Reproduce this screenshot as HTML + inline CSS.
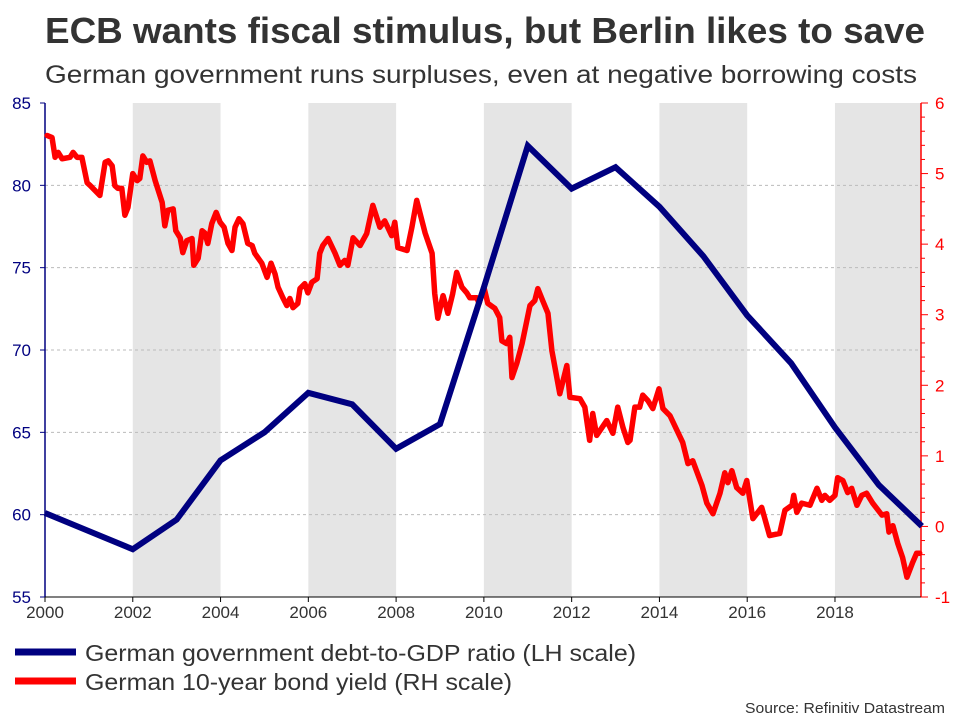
<!DOCTYPE html>
<html><head><meta charset="utf-8"><style>
body{margin:0;background:#fff;width:960px;height:720px;overflow:hidden;font-family:"Liberation Sans",sans-serif}
</style></head><body>
<svg id="c" width="960" height="720" xmlns="http://www.w3.org/2000/svg" font-family="Liberation Sans, sans-serif">
<text x="45" y="43" font-size="36" font-weight="bold" fill="#333" textLength="880" lengthAdjust="spacingAndGlyphs">ECB wants fiscal stimulus, but Berlin likes to save</text>
<text x="45" y="83" font-size="25" fill="#333" textLength="872" lengthAdjust="spacingAndGlyphs">German government runs surpluses, even at negative borrowing costs</text>
<g id="bands"></g><g id="grid"></g><g id="axes"></g><g id="series"></g>
<g>
<line x1="15" y1="652" x2="76" y2="652" stroke="#000080" stroke-width="7"/>
<text x="85" y="661" font-size="23" fill="#333" textLength="551" lengthAdjust="spacingAndGlyphs">German government debt-to-GDP ratio (LH scale)</text>
<line x1="15" y1="681" x2="76" y2="681" stroke="#ff0000" stroke-width="7"/>
<text x="85" y="690" font-size="23" fill="#333" textLength="427" lengthAdjust="spacingAndGlyphs">German 10-year bond yield (RH scale)</text>
</g>
<text x="945" y="713" text-anchor="end" font-size="15" fill="#333" textLength="200" lengthAdjust="spacingAndGlyphs">Source: Refinitiv Datastream</text>
</svg>
<script>
const debtYears=[2000,2001,2002,2003,2004,2005,2006,2007,2008,2009,2010,2011,2012,2013,2014,2015,2016,2017,2018,2019,2019.98];
const debtValues=[60.1,59.0,57.9,59.7,63.3,65.0,67.4,66.7,64.0,65.5,73.8,82.4,79.8,81.1,78.7,75.7,72.1,69.2,65.3,61.8,59.3];
const yieldDates=[0.05,0.16,0.23,0.30,0.39,0.57,0.64,0.73,0.84,0.96,1.03,1.25,1.37,1.44,1.53,1.59,1.66,1.75,1.82,1.89,2.00,2.10,2.16,2.23,2.32,2.39,2.51,2.67,2.73,2.80,2.92,2.98,3.08,3.14,3.23,3.35,3.39,3.49,3.58,3.64,3.71,3.80,3.90,3.99,4.08,4.17,4.26,4.33,4.42,4.51,4.62,4.72,4.78,4.94,5.06,5.15,5.24,5.31,5.42,5.51,5.58,5.65,5.76,5.81,5.92,5.99,6.08,6.20,6.26,6.33,6.45,6.61,6.72,6.83,6.90,7.02,7.18,7.33,7.47,7.63,7.74,7.90,7.97,8.04,8.25,8.36,8.47,8.66,8.82,8.88,8.95,9.07,9.18,9.29,9.38,9.50,9.61,9.68,9.84,9.89,10.00,10.09,10.25,10.36,10.41,10.52,10.59,10.64,10.75,10.87,11.05,11.16,11.23,11.34,11.46,11.55,11.73,11.89,11.96,12.19,12.30,12.41,12.48,12.57,12.80,12.94,13.05,13.17,13.28,13.33,13.44,13.55,13.62,13.74,13.85,13.99,14.08,14.24,14.53,14.65,14.76,14.97,15.08,15.22,15.38,15.49,15.56,15.65,15.76,15.90,15.99,16.13,16.33,16.51,16.74,16.86,17.02,17.06,17.13,17.24,17.43,17.59,17.70,17.77,17.88,18.00,18.06,18.18,18.29,18.38,18.50,18.61,18.72,18.86,19.07,19.18,19.23,19.32,19.43,19.54,19.64,19.77,19.86,19.93];
const yieldValues=[5.54,5.51,5.23,5.30,5.21,5.23,5.30,5.23,5.23,4.87,4.83,4.69,5.16,5.18,5.11,4.83,4.79,4.79,4.41,4.52,5.00,4.90,4.93,5.25,5.16,5.18,4.90,4.59,4.26,4.48,4.50,4.19,4.09,3.88,4.05,4.08,3.70,3.80,4.19,4.16,4.01,4.29,4.45,4.31,4.24,4.01,3.91,4.24,4.36,4.29,4.01,3.98,3.87,3.73,3.53,3.73,3.58,3.39,3.24,3.13,3.23,3.10,3.16,3.37,3.44,3.31,3.46,3.51,3.87,3.98,4.08,3.87,3.70,3.77,3.70,4.09,3.98,4.15,4.55,4.24,4.33,4.12,4.31,3.95,3.91,4.24,4.62,4.16,3.87,3.30,2.95,3.27,3.02,3.30,3.60,3.39,3.31,3.24,3.24,3.16,3.39,3.16,3.09,2.96,2.63,2.59,2.68,2.11,2.31,2.59,3.13,3.20,3.37,3.20,3.02,2.49,1.88,2.28,1.83,1.81,1.69,1.22,1.60,1.29,1.50,1.32,1.69,1.40,1.19,1.22,1.69,1.69,1.86,1.78,1.67,1.95,1.67,1.57,1.19,0.89,0.93,0.58,0.33,0.18,0.47,0.76,0.62,0.79,0.55,0.47,0.65,0.11,0.27,-0.13,-0.10,0.23,0.30,0.44,0.20,0.33,0.30,0.54,0.37,0.44,0.37,0.44,0.69,0.65,0.48,0.54,0.30,0.44,0.47,0.33,0.16,0.18,-0.08,0.01,-0.24,-0.44,-0.72,-0.51,-0.38,-0.38];
const leftTicks=[55,60,65,70,75,80,85];
const rightTicks=[-1,0,1,2,3,4,5,6];
const xTicks=[2000,2002,2004,2006,2008,2010,2012,2014,2016,2018];
const bandStarts=[2002,2006,2010,2014,2018];

const L=45,R=921,T=103,B=597;
const x=v=>L+(v-2000)*(R-L)/19.96;
const yl=v=>B-(v-55)*(B-T)/30;
const yr=v=>B-(v+1)*(B-T)/7;
const NS="http://www.w3.org/2000/svg";
function mk(tag,parent,attrs){const e=document.createElementNS(NS,tag);for(const k in attrs)e.setAttribute(k,attrs[k]);document.getElementById(parent).appendChild(e);return e;}

bandStarts.forEach(s=>{
  const e=mk('rect','bands',{x:x(s),y:T,width:Math.min(x(s+2),R)-x(s),height:B-T,fill:'#e5e5e5'});
  
  
});
leftTicks.forEach(v=>{
  if(v>55&&v<85){const g=mk('line','grid',{x1:L,x2:R,y1:yl(v),y2:yl(v),stroke:'#bbb','stroke-dasharray':'3,3','stroke-width':1});
  
  }
  const t=mk('line','axes',{x1:L-5,x2:L,y1:yl(v),y2:yl(v),stroke:'#000080'});
  
  
  const l=mk('text','axes',{x:L-14,y:yl(v)+6,'text-anchor':'end','font-size':17,fill:'#000080'});
  l.textContent=v;
  
  
});
for(let v=-1;v<=6.001;v+=0.2){
  const major=Math.abs(v-Math.round(v))<0.01;
  const t=mk('line','axes',{x1:R,x2:R+(major?7:4),y1:yr(v),y2:yr(v),stroke:'#f00'});
  
  
}
rightTicks.forEach(v=>{
  const l=mk('text','axes',{x:R+14,y:yr(v)+6,'font-size':17,fill:'#f00'});
  l.textContent=v;
  
  
});
xTicks.forEach(v=>{
  const t=mk('line','axes',{x1:x(v),x2:x(v),y1:B,y2:B+5,stroke:'#000'});
  
  
  const l=mk('text','axes',{x:x(v),y:B+21,'text-anchor':'middle','font-size':17,fill:'#333'});
  l.textContent=v;
  
  
});
let a=mk('line','axes',{x1:L,x2:L,y1:T,y2:B,stroke:'#000080','stroke-width':1.5});


a=mk('line','axes',{x1:R,x2:R,y1:T,y2:B,stroke:'#f00','stroke-width':1.5});


a=mk('line','axes',{x1:L,x2:R,y1:B,y2:B,stroke:'#000','stroke-width':1});



const yp=mk('polyline','series',{points:yieldDates.map((d,i)=>x(2000+d)+','+yr(yieldValues[i])).join(' '),fill:'none',stroke:'#ff0000','stroke-width':5.5,'stroke-linejoin':'round','stroke-linecap':'round'});


const dp=mk('polyline','series',{points:debtYears.map((d,i)=>x(d)+','+yl(debtValues[i])).join(' '),fill:'none',stroke:'#000080','stroke-width':6,'stroke-linejoin':'miter'});


</script>
</body></html>
